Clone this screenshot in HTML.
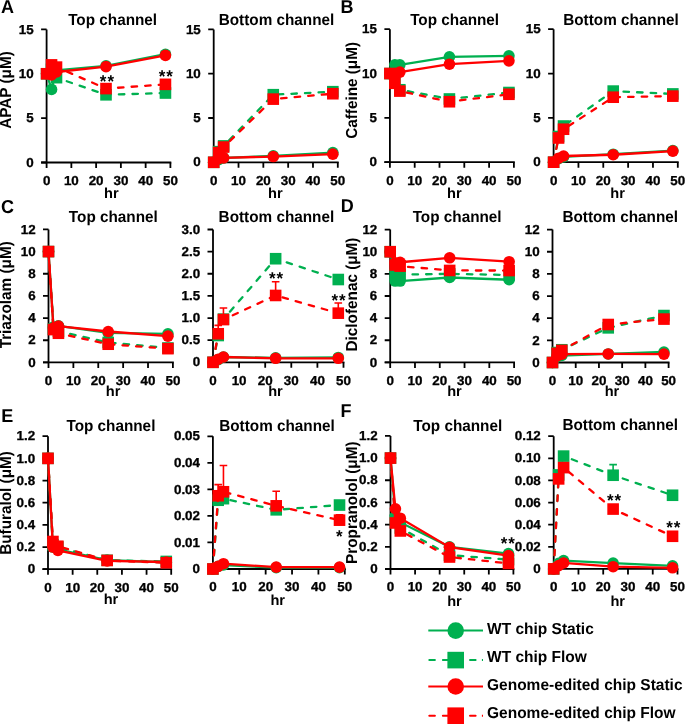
<!DOCTYPE html><html><head><meta charset="utf-8"><style>html,body{margin:0;padding:0;background:#fff;overflow:hidden}svg{display:block;will-change:transform}</style></head><body>
<svg text-rendering="geometricPrecision" width="685" height="724" viewBox="0 0 685 724" font-family='"Liberation Sans", sans-serif' font-weight="bold" fill="#000">
<rect width="685" height="724" fill="#fff"/>
<path d="M46.60 29.40V162.50M41.10 162.50H171.30" stroke="#000" stroke-width="1.8" fill="none"/>
<path d="M41.10 162.50H46.60M41.10 118.13H46.60M41.10 73.77H46.60M41.10 29.40H46.60M46.60 162.50V168.00M71.36 162.50V168.00M96.12 162.50V168.00M120.88 162.50V168.00M145.64 162.50V168.00M170.40 162.50V168.00" stroke="#000" stroke-width="1.8" fill="none"/>
<text transform="translate(33.70,166.65) scale(1.07,1.04)" text-anchor="end" font-size="12.5" stroke="#000" stroke-width="0.3">0</text>
<text transform="translate(33.70,122.28) scale(1.07,1.04)" text-anchor="end" font-size="12.5" stroke="#000" stroke-width="0.3">5</text>
<text transform="translate(33.70,77.92) scale(1.07,1.04)" text-anchor="end" font-size="12.5" stroke="#000" stroke-width="0.3">10</text>
<text transform="translate(33.70,33.55) scale(1.07,1.04)" text-anchor="end" font-size="12.5" stroke="#000" stroke-width="0.3">15</text>
<text transform="translate(46.60,184.80) scale(1.07,1.04)" text-anchor="middle" font-size="12.5" stroke="#000" stroke-width="0.3">0</text>
<text transform="translate(71.36,184.80) scale(1.07,1.04)" text-anchor="middle" font-size="12.5" stroke="#000" stroke-width="0.3">10</text>
<text transform="translate(96.12,184.80) scale(1.07,1.04)" text-anchor="middle" font-size="12.5" stroke="#000" stroke-width="0.3">20</text>
<text transform="translate(120.88,184.80) scale(1.07,1.04)" text-anchor="middle" font-size="12.5" stroke="#000" stroke-width="0.3">30</text>
<text transform="translate(145.64,184.80) scale(1.07,1.04)" text-anchor="middle" font-size="12.5" stroke="#000" stroke-width="0.3">40</text>
<text transform="translate(170.40,184.80) scale(1.07,1.04)" text-anchor="middle" font-size="12.5" stroke="#000" stroke-width="0.3">50</text>
<text transform="translate(112.60,24.50) scale(1,1.04)" text-anchor="middle" font-size="15.3">Top channel</text>
<text transform="translate(111.40,197.90) scale(1.0,1.0)" text-anchor="middle" font-size="14.6">hr</text>
<polyline points="46.60,73.77 51.55,89.38 56.50,70.22 106.02,65.78 165.45,54.25" fill="none" stroke="#00B050" stroke-width="2.3"/>
<circle cx="46.60" cy="73.77" r="5.80" fill="#00B050"/>
<circle cx="51.55" cy="89.38" r="5.80" fill="#00B050"/>
<circle cx="56.50" cy="70.22" r="5.80" fill="#00B050"/>
<circle cx="106.02" cy="65.78" r="5.80" fill="#00B050"/>
<circle cx="165.45" cy="54.25" r="5.80" fill="#00B050"/>
<polyline points="46.60,73.77 51.55,69.33 56.50,77.67 106.02,94.80 165.45,93.02" fill="none" stroke="#00B050" stroke-width="2.3" stroke-dasharray="5.5 8.1" stroke-linecap="round"/>
<rect x="40.80" y="67.97" width="11.60" height="11.60" fill="#00B050"/>
<rect x="45.75" y="63.53" width="11.60" height="11.60" fill="#00B050"/>
<rect x="50.70" y="71.87" width="11.60" height="11.60" fill="#00B050"/>
<rect x="100.22" y="89.00" width="11.60" height="11.60" fill="#00B050"/>
<rect x="159.65" y="87.22" width="11.60" height="11.60" fill="#00B050"/>
<polyline points="46.60,73.77 51.55,75.01 56.50,71.99 106.02,66.58 165.45,55.40" fill="none" stroke="#FF0000" stroke-width="2.3"/>
<circle cx="46.60" cy="73.77" r="5.80" fill="#FF0000"/>
<circle cx="51.55" cy="75.01" r="5.80" fill="#FF0000"/>
<circle cx="56.50" cy="71.99" r="5.80" fill="#FF0000"/>
<circle cx="106.02" cy="66.58" r="5.80" fill="#FF0000"/>
<circle cx="165.45" cy="55.40" r="5.80" fill="#FF0000"/>
<polyline points="46.60,73.77 51.55,64.89 56.50,67.11 106.02,88.59 165.45,84.33" fill="none" stroke="#FF0000" stroke-width="2.3" stroke-dasharray="5.5 8.1" stroke-linecap="round"/>
<rect x="40.80" y="67.97" width="11.60" height="11.60" fill="#FF0000"/>
<rect x="45.75" y="59.09" width="11.60" height="11.60" fill="#FF0000"/>
<rect x="50.70" y="61.31" width="11.60" height="11.60" fill="#FF0000"/>
<rect x="100.22" y="82.79" width="11.60" height="11.60" fill="#FF0000"/>
<rect x="159.65" y="78.53" width="11.60" height="11.60" fill="#FF0000"/>
<text x="107.40" y="87.05" text-anchor="middle" font-size="17" letter-spacing="1">**</text>
<text x="166.35" y="81.80" text-anchor="middle" font-size="17" letter-spacing="1">**</text>
<path d="M213.70 29.40V162.30M208.20 162.30H338.70" stroke="#000" stroke-width="1.8" fill="none"/>
<path d="M208.20 162.30H213.70M208.20 118.00H213.70M208.20 73.70H213.70M208.20 29.40H213.70M213.70 162.30V167.80M238.52 162.30V167.80M263.34 162.30V167.80M288.16 162.30V167.80M312.98 162.30V167.80M337.80 162.30V167.80" stroke="#000" stroke-width="1.8" fill="none"/>
<text transform="translate(200.80,166.45) scale(1.07,1.04)" text-anchor="end" font-size="12.5" stroke="#000" stroke-width="0.3">0</text>
<text transform="translate(200.80,122.15) scale(1.07,1.04)" text-anchor="end" font-size="12.5" stroke="#000" stroke-width="0.3">5</text>
<text transform="translate(200.80,77.85) scale(1.07,1.04)" text-anchor="end" font-size="12.5" stroke="#000" stroke-width="0.3">10</text>
<text transform="translate(200.80,33.55) scale(1.07,1.04)" text-anchor="end" font-size="12.5" stroke="#000" stroke-width="0.3">15</text>
<text transform="translate(213.70,184.60) scale(1.07,1.04)" text-anchor="middle" font-size="12.5" stroke="#000" stroke-width="0.3">0</text>
<text transform="translate(238.52,184.60) scale(1.07,1.04)" text-anchor="middle" font-size="12.5" stroke="#000" stroke-width="0.3">10</text>
<text transform="translate(263.34,184.60) scale(1.07,1.04)" text-anchor="middle" font-size="12.5" stroke="#000" stroke-width="0.3">20</text>
<text transform="translate(288.16,184.60) scale(1.07,1.04)" text-anchor="middle" font-size="12.5" stroke="#000" stroke-width="0.3">30</text>
<text transform="translate(312.98,184.60) scale(1.07,1.04)" text-anchor="middle" font-size="12.5" stroke="#000" stroke-width="0.3">40</text>
<text transform="translate(337.80,184.60) scale(1.07,1.04)" text-anchor="middle" font-size="12.5" stroke="#000" stroke-width="0.3">50</text>
<text transform="translate(276.50,24.50) scale(1,1.04)" text-anchor="middle" font-size="15.3">Bottom channel</text>
<text transform="translate(275.40,197.90) scale(1.0,1.0)" text-anchor="middle" font-size="14.6">hr</text>
<polyline points="213.70,162.30 218.66,159.64 223.63,157.87 273.27,155.92 332.84,152.55" fill="none" stroke="#00B050" stroke-width="2.3"/>
<circle cx="213.70" cy="162.30" r="5.80" fill="#00B050"/>
<circle cx="218.66" cy="159.64" r="5.80" fill="#00B050"/>
<circle cx="223.63" cy="157.87" r="5.80" fill="#00B050"/>
<circle cx="273.27" cy="155.92" r="5.80" fill="#00B050"/>
<circle cx="332.84" cy="152.55" r="5.80" fill="#00B050"/>
<polyline points="213.70,162.30 218.66,151.67 223.63,145.91 273.27,94.70 332.84,91.69" fill="none" stroke="#00B050" stroke-width="2.3" stroke-dasharray="5.5 8.1" stroke-linecap="round"/>
<rect x="207.90" y="156.50" width="11.60" height="11.60" fill="#00B050"/>
<rect x="212.86" y="145.87" width="11.60" height="11.60" fill="#00B050"/>
<rect x="217.83" y="140.11" width="11.60" height="11.60" fill="#00B050"/>
<rect x="267.47" y="88.90" width="11.60" height="11.60" fill="#00B050"/>
<rect x="327.04" y="85.89" width="11.60" height="11.60" fill="#00B050"/>
<polyline points="213.70,162.30 218.66,158.76 223.63,157.87 273.27,156.54 332.84,154.15" fill="none" stroke="#FF0000" stroke-width="2.3"/>
<circle cx="213.70" cy="162.30" r="5.80" fill="#FF0000"/>
<circle cx="218.66" cy="158.76" r="5.80" fill="#FF0000"/>
<circle cx="223.63" cy="157.87" r="5.80" fill="#FF0000"/>
<circle cx="273.27" cy="156.54" r="5.80" fill="#FF0000"/>
<circle cx="332.84" cy="154.15" r="5.80" fill="#FF0000"/>
<polyline points="213.70,162.30 218.66,152.55 223.63,147.06 273.27,99.13 332.84,93.72" fill="none" stroke="#FF0000" stroke-width="2.3" stroke-dasharray="5.5 8.1" stroke-linecap="round"/>
<rect x="207.90" y="156.50" width="11.60" height="11.60" fill="#FF0000"/>
<rect x="212.86" y="146.75" width="11.60" height="11.60" fill="#FF0000"/>
<rect x="217.83" y="141.26" width="11.60" height="11.60" fill="#FF0000"/>
<rect x="267.47" y="93.33" width="11.60" height="11.60" fill="#FF0000"/>
<rect x="327.04" y="87.92" width="11.60" height="11.60" fill="#FF0000"/>
<path d="M389.90 29.20V162.20M384.40 162.20H514.80" stroke="#000" stroke-width="1.8" fill="none"/>
<path d="M384.40 162.20H389.90M384.40 117.87H389.90M384.40 73.53H389.90M384.40 29.20H389.90M389.90 162.20V167.70M414.70 162.20V167.70M439.50 162.20V167.70M464.30 162.20V167.70M489.10 162.20V167.70M513.90 162.20V167.70" stroke="#000" stroke-width="1.8" fill="none"/>
<text transform="translate(377.00,166.35) scale(1.07,1.04)" text-anchor="end" font-size="12.5" stroke="#000" stroke-width="0.3">0</text>
<text transform="translate(377.00,122.02) scale(1.07,1.04)" text-anchor="end" font-size="12.5" stroke="#000" stroke-width="0.3">5</text>
<text transform="translate(377.00,77.68) scale(1.07,1.04)" text-anchor="end" font-size="12.5" stroke="#000" stroke-width="0.3">10</text>
<text transform="translate(377.00,33.35) scale(1.07,1.04)" text-anchor="end" font-size="12.5" stroke="#000" stroke-width="0.3">15</text>
<text transform="translate(389.90,184.50) scale(1.07,1.04)" text-anchor="middle" font-size="12.5" stroke="#000" stroke-width="0.3">0</text>
<text transform="translate(414.70,184.50) scale(1.07,1.04)" text-anchor="middle" font-size="12.5" stroke="#000" stroke-width="0.3">10</text>
<text transform="translate(439.50,184.50) scale(1.07,1.04)" text-anchor="middle" font-size="12.5" stroke="#000" stroke-width="0.3">20</text>
<text transform="translate(464.30,184.50) scale(1.07,1.04)" text-anchor="middle" font-size="12.5" stroke="#000" stroke-width="0.3">30</text>
<text transform="translate(489.10,184.50) scale(1.07,1.04)" text-anchor="middle" font-size="12.5" stroke="#000" stroke-width="0.3">40</text>
<text transform="translate(513.90,184.50) scale(1.07,1.04)" text-anchor="middle" font-size="12.5" stroke="#000" stroke-width="0.3">50</text>
<text transform="translate(454.60,24.80) scale(1,1.04)" text-anchor="middle" font-size="15.3">Top channel</text>
<text transform="translate(454.30,197.90) scale(1.0,1.0)" text-anchor="middle" font-size="14.6">hr</text>
<polyline points="389.90,73.53 394.86,64.84 399.82,64.84 449.42,56.86 508.94,55.80" fill="none" stroke="#00B050" stroke-width="2.3"/>
<circle cx="389.90" cy="73.53" r="5.80" fill="#00B050"/>
<circle cx="394.86" cy="64.84" r="5.80" fill="#00B050"/>
<circle cx="399.82" cy="64.84" r="5.80" fill="#00B050"/>
<circle cx="449.42" cy="56.86" r="5.80" fill="#00B050"/>
<circle cx="508.94" cy="55.80" r="5.80" fill="#00B050"/>
<polyline points="389.90,73.53 394.86,82.40 399.82,89.76 449.42,98.98 508.94,92.51" fill="none" stroke="#00B050" stroke-width="2.3" stroke-dasharray="5.5 8.1" stroke-linecap="round"/>
<rect x="384.10" y="67.73" width="11.60" height="11.60" fill="#00B050"/>
<rect x="389.06" y="76.60" width="11.60" height="11.60" fill="#00B050"/>
<rect x="394.02" y="83.96" width="11.60" height="11.60" fill="#00B050"/>
<rect x="443.62" y="93.18" width="11.60" height="11.60" fill="#00B050"/>
<rect x="503.14" y="86.71" width="11.60" height="11.60" fill="#00B050"/>
<polyline points="389.90,73.53 394.86,73.53 399.82,72.11 449.42,64.22 508.94,60.85" fill="none" stroke="#FF0000" stroke-width="2.3"/>
<circle cx="389.90" cy="73.53" r="5.80" fill="#FF0000"/>
<circle cx="394.86" cy="73.53" r="5.80" fill="#FF0000"/>
<circle cx="399.82" cy="72.11" r="5.80" fill="#FF0000"/>
<circle cx="449.42" cy="64.22" r="5.80" fill="#FF0000"/>
<circle cx="508.94" cy="60.85" r="5.80" fill="#FF0000"/>
<polyline points="389.90,73.53 394.86,83.29 399.82,91.09 449.42,101.73 508.94,94.28" fill="none" stroke="#FF0000" stroke-width="2.3" stroke-dasharray="5.5 8.1" stroke-linecap="round"/>
<rect x="384.10" y="67.73" width="11.60" height="11.60" fill="#FF0000"/>
<rect x="389.06" y="77.49" width="11.60" height="11.60" fill="#FF0000"/>
<rect x="394.02" y="85.29" width="11.60" height="11.60" fill="#FF0000"/>
<rect x="443.62" y="95.93" width="11.60" height="11.60" fill="#FF0000"/>
<rect x="503.14" y="88.48" width="11.60" height="11.60" fill="#FF0000"/>
<path d="M553.60 29.20V162.20M548.10 162.20H678.70" stroke="#000" stroke-width="1.8" fill="none"/>
<path d="M548.10 162.20H553.60M548.10 117.87H553.60M548.10 73.53H553.60M548.10 29.20H553.60M553.60 162.20V167.70M578.44 162.20V167.70M603.28 162.20V167.70M628.12 162.20V167.70M652.96 162.20V167.70M677.80 162.20V167.70" stroke="#000" stroke-width="1.8" fill="none"/>
<text transform="translate(540.70,166.35) scale(1.07,1.04)" text-anchor="end" font-size="12.5" stroke="#000" stroke-width="0.3">0</text>
<text transform="translate(540.70,122.02) scale(1.07,1.04)" text-anchor="end" font-size="12.5" stroke="#000" stroke-width="0.3">5</text>
<text transform="translate(540.70,77.68) scale(1.07,1.04)" text-anchor="end" font-size="12.5" stroke="#000" stroke-width="0.3">10</text>
<text transform="translate(540.70,33.35) scale(1.07,1.04)" text-anchor="end" font-size="12.5" stroke="#000" stroke-width="0.3">15</text>
<text transform="translate(553.60,184.50) scale(1.07,1.04)" text-anchor="middle" font-size="12.5" stroke="#000" stroke-width="0.3">0</text>
<text transform="translate(578.44,184.50) scale(1.07,1.04)" text-anchor="middle" font-size="12.5" stroke="#000" stroke-width="0.3">10</text>
<text transform="translate(603.28,184.50) scale(1.07,1.04)" text-anchor="middle" font-size="12.5" stroke="#000" stroke-width="0.3">20</text>
<text transform="translate(628.12,184.50) scale(1.07,1.04)" text-anchor="middle" font-size="12.5" stroke="#000" stroke-width="0.3">30</text>
<text transform="translate(652.96,184.50) scale(1.07,1.04)" text-anchor="middle" font-size="12.5" stroke="#000" stroke-width="0.3">40</text>
<text transform="translate(677.80,184.50) scale(1.07,1.04)" text-anchor="middle" font-size="12.5" stroke="#000" stroke-width="0.3">50</text>
<text transform="translate(621.00,24.50) scale(1,1.04)" text-anchor="middle" font-size="15.3">Bottom channel</text>
<text transform="translate(617.60,197.90) scale(1.0,1.0)" text-anchor="middle" font-size="14.6">hr</text>
<polyline points="553.60,162.20 558.57,158.65 563.54,156.88 613.22,154.22 672.83,150.67" fill="none" stroke="#00B050" stroke-width="2.3"/>
<circle cx="553.60" cy="162.20" r="5.80" fill="#00B050"/>
<circle cx="558.57" cy="158.65" r="5.80" fill="#00B050"/>
<circle cx="563.54" cy="156.88" r="5.80" fill="#00B050"/>
<circle cx="613.22" cy="154.22" r="5.80" fill="#00B050"/>
<circle cx="672.83" cy="150.67" r="5.80" fill="#00B050"/>
<polyline points="553.60,162.20 558.57,136.49 563.54,126.02 613.22,91.09 672.83,93.93" fill="none" stroke="#00B050" stroke-width="2.3" stroke-dasharray="5.5 8.1" stroke-linecap="round"/>
<rect x="547.80" y="156.40" width="11.60" height="11.60" fill="#00B050"/>
<rect x="552.77" y="130.69" width="11.60" height="11.60" fill="#00B050"/>
<rect x="557.74" y="120.22" width="11.60" height="11.60" fill="#00B050"/>
<rect x="607.42" y="85.29" width="11.60" height="11.60" fill="#00B050"/>
<rect x="667.03" y="88.13" width="11.60" height="11.60" fill="#00B050"/>
<polyline points="553.60,162.20 558.57,158.21 563.54,155.99 613.22,154.75 672.83,151.12" fill="none" stroke="#FF0000" stroke-width="2.3"/>
<circle cx="553.60" cy="162.20" r="5.80" fill="#FF0000"/>
<circle cx="558.57" cy="158.21" r="5.80" fill="#FF0000"/>
<circle cx="563.54" cy="155.99" r="5.80" fill="#FF0000"/>
<circle cx="613.22" cy="154.75" r="5.80" fill="#FF0000"/>
<circle cx="672.83" cy="151.12" r="5.80" fill="#FF0000"/>
<polyline points="553.60,162.20 558.57,137.99 563.54,129.22 613.22,97.21 672.83,96.14" fill="none" stroke="#FF0000" stroke-width="2.3" stroke-dasharray="5.5 8.1" stroke-linecap="round"/>
<rect x="547.80" y="156.40" width="11.60" height="11.60" fill="#FF0000"/>
<rect x="552.77" y="132.19" width="11.60" height="11.60" fill="#FF0000"/>
<rect x="557.74" y="123.42" width="11.60" height="11.60" fill="#FF0000"/>
<rect x="607.42" y="91.41" width="11.60" height="11.60" fill="#FF0000"/>
<rect x="667.03" y="90.34" width="11.60" height="11.60" fill="#FF0000"/>
<path d="M48.50 229.40V362.40M43.00 362.40H173.80" stroke="#000" stroke-width="1.8" fill="none"/>
<path d="M43.00 362.40H48.50M43.00 340.23H48.50M43.00 318.07H48.50M43.00 295.90H48.50M43.00 273.73H48.50M43.00 251.57H48.50M43.00 229.40H48.50M48.50 362.40V367.90M73.38 362.40V367.90M98.26 362.40V367.90M123.14 362.40V367.90M148.02 362.40V367.90M172.90 362.40V367.90" stroke="#000" stroke-width="1.8" fill="none"/>
<text transform="translate(35.60,366.55) scale(1.07,1.04)" text-anchor="end" font-size="12.5" stroke="#000" stroke-width="0.3">0</text>
<text transform="translate(35.60,344.38) scale(1.07,1.04)" text-anchor="end" font-size="12.5" stroke="#000" stroke-width="0.3">2</text>
<text transform="translate(35.60,322.22) scale(1.07,1.04)" text-anchor="end" font-size="12.5" stroke="#000" stroke-width="0.3">4</text>
<text transform="translate(35.60,300.05) scale(1.07,1.04)" text-anchor="end" font-size="12.5" stroke="#000" stroke-width="0.3">6</text>
<text transform="translate(35.60,277.88) scale(1.07,1.04)" text-anchor="end" font-size="12.5" stroke="#000" stroke-width="0.3">8</text>
<text transform="translate(35.60,255.72) scale(1.07,1.04)" text-anchor="end" font-size="12.5" stroke="#000" stroke-width="0.3">10</text>
<text transform="translate(35.60,233.55) scale(1.07,1.04)" text-anchor="end" font-size="12.5" stroke="#000" stroke-width="0.3">12</text>
<text transform="translate(48.50,384.70) scale(1.07,1.04)" text-anchor="middle" font-size="12.5" stroke="#000" stroke-width="0.3">0</text>
<text transform="translate(73.38,384.70) scale(1.07,1.04)" text-anchor="middle" font-size="12.5" stroke="#000" stroke-width="0.3">10</text>
<text transform="translate(98.26,384.70) scale(1.07,1.04)" text-anchor="middle" font-size="12.5" stroke="#000" stroke-width="0.3">20</text>
<text transform="translate(123.14,384.70) scale(1.07,1.04)" text-anchor="middle" font-size="12.5" stroke="#000" stroke-width="0.3">30</text>
<text transform="translate(148.02,384.70) scale(1.07,1.04)" text-anchor="middle" font-size="12.5" stroke="#000" stroke-width="0.3">40</text>
<text transform="translate(172.90,384.70) scale(1.07,1.04)" text-anchor="middle" font-size="12.5" stroke="#000" stroke-width="0.3">50</text>
<text transform="translate(113.30,221.50) scale(1,1.04)" text-anchor="middle" font-size="15.3">Top channel</text>
<text transform="translate(113.10,396.10) scale(1.0,1.0)" text-anchor="middle" font-size="14.6">hr</text>
<polyline points="48.50,251.57 53.48,326.93 58.45,325.82 108.21,332.81 167.92,333.81" fill="none" stroke="#00B050" stroke-width="2.3"/>
<circle cx="48.50" cy="251.57" r="5.80" fill="#00B050"/>
<circle cx="53.48" cy="326.93" r="5.80" fill="#00B050"/>
<circle cx="58.45" cy="325.82" r="5.80" fill="#00B050"/>
<circle cx="108.21" cy="332.81" r="5.80" fill="#00B050"/>
<circle cx="167.92" cy="333.81" r="5.80" fill="#00B050"/>
<polyline points="48.50,251.57 53.48,329.15 58.45,331.37 108.21,342.45 167.92,347.99" fill="none" stroke="#00B050" stroke-width="2.3" stroke-dasharray="5.5 8.1" stroke-linecap="round"/>
<rect x="42.70" y="245.77" width="11.60" height="11.60" fill="#00B050"/>
<rect x="47.68" y="323.35" width="11.60" height="11.60" fill="#00B050"/>
<rect x="52.65" y="325.57" width="11.60" height="11.60" fill="#00B050"/>
<rect x="102.41" y="336.65" width="11.60" height="11.60" fill="#00B050"/>
<rect x="162.12" y="342.19" width="11.60" height="11.60" fill="#00B050"/>
<polyline points="48.50,251.57 53.48,328.04 58.45,326.05 108.21,331.48 167.92,336.13" fill="none" stroke="#FF0000" stroke-width="2.3"/>
<circle cx="48.50" cy="251.57" r="5.80" fill="#FF0000"/>
<circle cx="53.48" cy="328.04" r="5.80" fill="#FF0000"/>
<circle cx="58.45" cy="326.05" r="5.80" fill="#FF0000"/>
<circle cx="108.21" cy="331.48" r="5.80" fill="#FF0000"/>
<circle cx="167.92" cy="336.13" r="5.80" fill="#FF0000"/>
<polyline points="48.50,251.57 53.48,329.59 58.45,333.25 108.21,344.22 167.92,348.66" fill="none" stroke="#FF0000" stroke-width="2.3" stroke-dasharray="5.5 8.1" stroke-linecap="round"/>
<rect x="42.70" y="245.77" width="11.60" height="11.60" fill="#FF0000"/>
<rect x="47.68" y="323.79" width="11.60" height="11.60" fill="#FF0000"/>
<rect x="52.65" y="327.45" width="11.60" height="11.60" fill="#FF0000"/>
<rect x="102.41" y="338.42" width="11.60" height="11.60" fill="#FF0000"/>
<rect x="162.12" y="342.86" width="11.60" height="11.60" fill="#FF0000"/>
<path d="M213.00 229.50V362.30M207.50 362.30H344.40" stroke="#000" stroke-width="1.8" fill="none"/>
<path d="M207.50 362.30H213.00M207.50 340.17H213.00M207.50 318.03H213.00M207.50 295.90H213.00M207.50 273.77H213.00M207.50 251.63H213.00M207.50 229.50H213.00M213.00 362.30V367.80M239.10 362.30V367.80M265.20 362.30V367.80M291.30 362.30V367.80M317.40 362.30V367.80M343.50 362.30V367.80" stroke="#000" stroke-width="1.8" fill="none"/>
<text transform="translate(200.10,366.45) scale(1.07,1.04)" text-anchor="end" font-size="12.5" stroke="#000" stroke-width="0.3">0</text>
<text transform="translate(200.10,344.32) scale(1.07,1.04)" text-anchor="end" font-size="12.5" stroke="#000" stroke-width="0.3">0.5</text>
<text transform="translate(200.10,322.18) scale(1.07,1.04)" text-anchor="end" font-size="12.5" stroke="#000" stroke-width="0.3">1.0</text>
<text transform="translate(200.10,300.05) scale(1.07,1.04)" text-anchor="end" font-size="12.5" stroke="#000" stroke-width="0.3">1.5</text>
<text transform="translate(200.10,277.92) scale(1.07,1.04)" text-anchor="end" font-size="12.5" stroke="#000" stroke-width="0.3">2.0</text>
<text transform="translate(200.10,255.78) scale(1.07,1.04)" text-anchor="end" font-size="12.5" stroke="#000" stroke-width="0.3">2.5</text>
<text transform="translate(200.10,233.65) scale(1.07,1.04)" text-anchor="end" font-size="12.5" stroke="#000" stroke-width="0.3">3.0</text>
<text transform="translate(213.00,384.60) scale(1.07,1.04)" text-anchor="middle" font-size="12.5" stroke="#000" stroke-width="0.3">0</text>
<text transform="translate(239.10,384.60) scale(1.07,1.04)" text-anchor="middle" font-size="12.5" stroke="#000" stroke-width="0.3">10</text>
<text transform="translate(265.20,384.60) scale(1.07,1.04)" text-anchor="middle" font-size="12.5" stroke="#000" stroke-width="0.3">20</text>
<text transform="translate(291.30,384.60) scale(1.07,1.04)" text-anchor="middle" font-size="12.5" stroke="#000" stroke-width="0.3">30</text>
<text transform="translate(317.40,384.60) scale(1.07,1.04)" text-anchor="middle" font-size="12.5" stroke="#000" stroke-width="0.3">40</text>
<text transform="translate(343.50,384.60) scale(1.07,1.04)" text-anchor="middle" font-size="12.5" stroke="#000" stroke-width="0.3">50</text>
<text transform="translate(276.40,221.50) scale(1,1.04)" text-anchor="middle" font-size="15.3">Bottom channel</text>
<text transform="translate(275.50,396.10) scale(1.0,1.0)" text-anchor="middle" font-size="14.6">hr</text>
<polyline points="213.00,362.30 218.22,359.64 223.44,356.99 275.64,357.87 338.28,357.43" fill="none" stroke="#00B050" stroke-width="2.3"/>
<circle cx="213.00" cy="362.30" r="5.80" fill="#00B050"/>
<circle cx="218.22" cy="359.64" r="5.80" fill="#00B050"/>
<circle cx="223.44" cy="356.99" r="5.80" fill="#00B050"/>
<circle cx="275.64" cy="357.87" r="5.80" fill="#00B050"/>
<circle cx="338.28" cy="357.43" r="5.80" fill="#00B050"/>
<polyline points="213.00,362.30 218.22,335.52 223.44,319.14 275.64,258.72 338.28,279.52" fill="none" stroke="#00B050" stroke-width="2.3" stroke-dasharray="5.5 8.1" stroke-linecap="round"/>
<rect x="207.20" y="356.50" width="11.60" height="11.60" fill="#00B050"/>
<rect x="212.42" y="329.72" width="11.60" height="11.60" fill="#00B050"/>
<rect x="217.64" y="313.34" width="11.60" height="11.60" fill="#00B050"/>
<rect x="269.84" y="252.92" width="11.60" height="11.60" fill="#00B050"/>
<rect x="332.48" y="273.72" width="11.60" height="11.60" fill="#00B050"/>
<polyline points="213.00,362.30 218.22,359.20 223.44,356.99 275.64,358.32 338.28,358.32" fill="none" stroke="#FF0000" stroke-width="2.3"/>
<circle cx="213.00" cy="362.30" r="5.80" fill="#FF0000"/>
<circle cx="218.22" cy="359.20" r="5.80" fill="#FF0000"/>
<circle cx="223.44" cy="356.99" r="5.80" fill="#FF0000"/>
<circle cx="275.64" cy="358.32" r="5.80" fill="#FF0000"/>
<circle cx="338.28" cy="358.32" r="5.80" fill="#FF0000"/>
<polyline points="213.00,362.30 218.22,333.75 223.44,319.58 275.64,295.46 338.28,313.16" fill="none" stroke="#FF0000" stroke-width="2.3" stroke-dasharray="5.5 8.1" stroke-linecap="round"/>
<path d="M218.22 333.75V325.34M214.42 325.34H222.02" stroke="#FF0000" stroke-width="1.6" fill="none"/>
<path d="M223.44 319.58V308.07M219.64 308.07H227.24" stroke="#FF0000" stroke-width="1.6" fill="none"/>
<path d="M275.64 295.46V281.73M271.84 281.73H279.44" stroke="#FF0000" stroke-width="1.6" fill="none"/>
<path d="M338.28 313.16V302.98M334.48 302.98H342.08" stroke="#FF0000" stroke-width="1.6" fill="none"/>
<rect x="207.20" y="356.50" width="11.60" height="11.60" fill="#FF0000"/>
<rect x="212.42" y="327.95" width="11.60" height="11.60" fill="#FF0000"/>
<rect x="217.64" y="313.78" width="11.60" height="11.60" fill="#FF0000"/>
<rect x="269.84" y="289.66" width="11.60" height="11.60" fill="#FF0000"/>
<rect x="332.48" y="307.36" width="11.60" height="11.60" fill="#FF0000"/>
<text x="276.60" y="284.40" text-anchor="middle" font-size="17" letter-spacing="1">**</text>
<text x="339.10" y="305.70" text-anchor="middle" font-size="17" letter-spacing="1">**</text>
<path d="M390.20 229.60V362.40M384.70 362.40H515.00" stroke="#000" stroke-width="1.8" fill="none"/>
<path d="M384.70 362.40H390.20M384.70 340.27H390.20M384.70 318.13H390.20M384.70 296.00H390.20M384.70 273.87H390.20M384.70 251.73H390.20M384.70 229.60H390.20M390.20 362.40V367.90M414.98 362.40V367.90M439.76 362.40V367.90M464.54 362.40V367.90M489.32 362.40V367.90M514.10 362.40V367.90" stroke="#000" stroke-width="1.8" fill="none"/>
<text transform="translate(377.30,366.55) scale(1.07,1.04)" text-anchor="end" font-size="12.5" stroke="#000" stroke-width="0.3">0</text>
<text transform="translate(377.30,344.42) scale(1.07,1.04)" text-anchor="end" font-size="12.5" stroke="#000" stroke-width="0.3">2</text>
<text transform="translate(377.30,322.28) scale(1.07,1.04)" text-anchor="end" font-size="12.5" stroke="#000" stroke-width="0.3">4</text>
<text transform="translate(377.30,300.15) scale(1.07,1.04)" text-anchor="end" font-size="12.5" stroke="#000" stroke-width="0.3">6</text>
<text transform="translate(377.30,278.02) scale(1.07,1.04)" text-anchor="end" font-size="12.5" stroke="#000" stroke-width="0.3">8</text>
<text transform="translate(377.30,255.88) scale(1.07,1.04)" text-anchor="end" font-size="12.5" stroke="#000" stroke-width="0.3">10</text>
<text transform="translate(377.30,233.75) scale(1.07,1.04)" text-anchor="end" font-size="12.5" stroke="#000" stroke-width="0.3">12</text>
<text transform="translate(390.20,384.70) scale(1.07,1.04)" text-anchor="middle" font-size="12.5" stroke="#000" stroke-width="0.3">0</text>
<text transform="translate(414.98,384.70) scale(1.07,1.04)" text-anchor="middle" font-size="12.5" stroke="#000" stroke-width="0.3">10</text>
<text transform="translate(439.76,384.70) scale(1.07,1.04)" text-anchor="middle" font-size="12.5" stroke="#000" stroke-width="0.3">20</text>
<text transform="translate(464.54,384.70) scale(1.07,1.04)" text-anchor="middle" font-size="12.5" stroke="#000" stroke-width="0.3">30</text>
<text transform="translate(489.32,384.70) scale(1.07,1.04)" text-anchor="middle" font-size="12.5" stroke="#000" stroke-width="0.3">40</text>
<text transform="translate(514.10,384.70) scale(1.07,1.04)" text-anchor="middle" font-size="12.5" stroke="#000" stroke-width="0.3">50</text>
<text transform="translate(457.10,221.50) scale(1,1.04)" text-anchor="middle" font-size="15.3">Top channel</text>
<text transform="translate(454.50,396.10) scale(1.0,1.0)" text-anchor="middle" font-size="14.6">hr</text>
<polyline points="390.20,251.73 395.16,281.06 400.11,281.06 449.67,277.52 509.14,279.73" fill="none" stroke="#00B050" stroke-width="2.3"/>
<circle cx="390.20" cy="251.73" r="5.80" fill="#00B050"/>
<circle cx="395.16" cy="281.06" r="5.80" fill="#00B050"/>
<circle cx="400.11" cy="281.06" r="5.80" fill="#00B050"/>
<circle cx="449.67" cy="277.52" r="5.80" fill="#00B050"/>
<circle cx="509.14" cy="279.73" r="5.80" fill="#00B050"/>
<polyline points="390.20,251.73 395.16,274.64 400.11,274.64 449.67,273.87 509.14,274.97" fill="none" stroke="#00B050" stroke-width="2.3" stroke-dasharray="5.5 8.1" stroke-linecap="round"/>
<rect x="384.40" y="245.93" width="11.60" height="11.60" fill="#00B050"/>
<rect x="389.36" y="268.84" width="11.60" height="11.60" fill="#00B050"/>
<rect x="394.31" y="268.84" width="11.60" height="11.60" fill="#00B050"/>
<rect x="443.87" y="268.07" width="11.60" height="11.60" fill="#00B050"/>
<rect x="503.34" y="269.17" width="11.60" height="11.60" fill="#00B050"/>
<polyline points="390.20,251.73 395.16,262.80 400.11,262.25 449.67,257.82 509.14,261.69" fill="none" stroke="#FF0000" stroke-width="2.3"/>
<circle cx="390.20" cy="251.73" r="5.80" fill="#FF0000"/>
<circle cx="395.16" cy="262.80" r="5.80" fill="#FF0000"/>
<circle cx="400.11" cy="262.25" r="5.80" fill="#FF0000"/>
<circle cx="449.67" cy="257.82" r="5.80" fill="#FF0000"/>
<circle cx="509.14" cy="261.69" r="5.80" fill="#FF0000"/>
<polyline points="390.20,251.73 395.16,265.01 400.11,266.12 449.67,270.44 509.14,270.55" fill="none" stroke="#FF0000" stroke-width="2.3" stroke-dasharray="5.5 8.1" stroke-linecap="round"/>
<rect x="384.40" y="245.93" width="11.60" height="11.60" fill="#FF0000"/>
<rect x="389.36" y="259.21" width="11.60" height="11.60" fill="#FF0000"/>
<rect x="394.31" y="260.32" width="11.60" height="11.60" fill="#FF0000"/>
<rect x="443.87" y="264.64" width="11.60" height="11.60" fill="#FF0000"/>
<rect x="503.34" y="264.75" width="11.60" height="11.60" fill="#FF0000"/>
<path d="M552.50 229.60V362.50M547.00 362.50H669.50" stroke="#000" stroke-width="1.8" fill="none"/>
<path d="M547.00 362.50H552.50M547.00 340.35H552.50M547.00 318.20H552.50M547.00 296.05H552.50M547.00 273.90H552.50M547.00 251.75H552.50M547.00 229.60H552.50M552.50 362.50V368.00M575.72 362.50V368.00M598.94 362.50V368.00M622.16 362.50V368.00M645.38 362.50V368.00M668.60 362.50V368.00" stroke="#000" stroke-width="1.8" fill="none"/>
<text transform="translate(539.60,366.65) scale(1.07,1.04)" text-anchor="end" font-size="12.5" stroke="#000" stroke-width="0.3">0</text>
<text transform="translate(539.60,344.50) scale(1.07,1.04)" text-anchor="end" font-size="12.5" stroke="#000" stroke-width="0.3">2</text>
<text transform="translate(539.60,322.35) scale(1.07,1.04)" text-anchor="end" font-size="12.5" stroke="#000" stroke-width="0.3">4</text>
<text transform="translate(539.60,300.20) scale(1.07,1.04)" text-anchor="end" font-size="12.5" stroke="#000" stroke-width="0.3">6</text>
<text transform="translate(539.60,278.05) scale(1.07,1.04)" text-anchor="end" font-size="12.5" stroke="#000" stroke-width="0.3">8</text>
<text transform="translate(539.60,255.90) scale(1.07,1.04)" text-anchor="end" font-size="12.5" stroke="#000" stroke-width="0.3">10</text>
<text transform="translate(539.60,233.75) scale(1.07,1.04)" text-anchor="end" font-size="12.5" stroke="#000" stroke-width="0.3">12</text>
<text transform="translate(552.50,384.80) scale(1.07,1.04)" text-anchor="middle" font-size="12.5" stroke="#000" stroke-width="0.3">0</text>
<text transform="translate(575.72,384.80) scale(1.07,1.04)" text-anchor="middle" font-size="12.5" stroke="#000" stroke-width="0.3">10</text>
<text transform="translate(598.94,384.80) scale(1.07,1.04)" text-anchor="middle" font-size="12.5" stroke="#000" stroke-width="0.3">20</text>
<text transform="translate(622.16,384.80) scale(1.07,1.04)" text-anchor="middle" font-size="12.5" stroke="#000" stroke-width="0.3">30</text>
<text transform="translate(645.38,384.80) scale(1.07,1.04)" text-anchor="middle" font-size="12.5" stroke="#000" stroke-width="0.3">40</text>
<text transform="translate(668.60,384.80) scale(1.07,1.04)" text-anchor="middle" font-size="12.5" stroke="#000" stroke-width="0.3">50</text>
<text transform="translate(620.20,221.50) scale(1,1.04)" text-anchor="middle" font-size="15.3">Bottom channel</text>
<text transform="translate(612.00,396.10) scale(1.0,1.0)" text-anchor="middle" font-size="14.6">hr</text>
<polyline points="552.50,362.50 557.14,356.96 561.79,355.52 608.23,353.97 663.96,351.98" fill="none" stroke="#00B050" stroke-width="2.3"/>
<circle cx="552.50" cy="362.50" r="5.80" fill="#00B050"/>
<circle cx="557.14" cy="356.96" r="5.80" fill="#00B050"/>
<circle cx="561.79" cy="355.52" r="5.80" fill="#00B050"/>
<circle cx="608.23" cy="353.97" r="5.80" fill="#00B050"/>
<circle cx="663.96" cy="351.98" r="5.80" fill="#00B050"/>
<polyline points="552.50,362.50 557.14,352.53 561.79,349.76 608.23,327.84 663.96,315.54" fill="none" stroke="#00B050" stroke-width="2.3" stroke-dasharray="5.5 8.1" stroke-linecap="round"/>
<rect x="546.70" y="356.70" width="11.60" height="11.60" fill="#00B050"/>
<rect x="551.34" y="346.73" width="11.60" height="11.60" fill="#00B050"/>
<rect x="555.99" y="343.96" width="11.60" height="11.60" fill="#00B050"/>
<rect x="602.43" y="322.04" width="11.60" height="11.60" fill="#00B050"/>
<rect x="658.16" y="309.74" width="11.60" height="11.60" fill="#00B050"/>
<polyline points="552.50,362.50 557.14,355.86 561.79,354.19 608.23,353.97 663.96,354.08" fill="none" stroke="#FF0000" stroke-width="2.3"/>
<circle cx="552.50" cy="362.50" r="5.80" fill="#FF0000"/>
<circle cx="557.14" cy="355.86" r="5.80" fill="#FF0000"/>
<circle cx="561.79" cy="354.19" r="5.80" fill="#FF0000"/>
<circle cx="608.23" cy="353.97" r="5.80" fill="#FF0000"/>
<circle cx="663.96" cy="354.08" r="5.80" fill="#FF0000"/>
<polyline points="552.50,362.50 557.14,353.31 561.79,350.43 608.23,324.51 663.96,319.09" fill="none" stroke="#FF0000" stroke-width="2.3" stroke-dasharray="5.5 8.1" stroke-linecap="round"/>
<rect x="546.70" y="356.70" width="11.60" height="11.60" fill="#FF0000"/>
<rect x="551.34" y="347.51" width="11.60" height="11.60" fill="#FF0000"/>
<rect x="555.99" y="344.63" width="11.60" height="11.60" fill="#FF0000"/>
<rect x="602.43" y="318.71" width="11.60" height="11.60" fill="#FF0000"/>
<rect x="658.16" y="313.29" width="11.60" height="11.60" fill="#FF0000"/>
<path d="M48.00 436.20V569.20M42.50 569.20H172.10" stroke="#000" stroke-width="1.8" fill="none"/>
<path d="M42.50 569.20H48.00M42.50 547.03H48.00M42.50 524.87H48.00M42.50 502.70H48.00M42.50 480.53H48.00M42.50 458.37H48.00M42.50 436.20H48.00M48.00 569.20V574.70M72.64 569.20V574.70M97.28 569.20V574.70M121.92 569.20V574.70M146.56 569.20V574.70M171.20 569.20V574.70" stroke="#000" stroke-width="1.8" fill="none"/>
<text transform="translate(35.10,573.35) scale(1.07,1.04)" text-anchor="end" font-size="12.5" stroke="#000" stroke-width="0.3">0</text>
<text transform="translate(35.10,551.18) scale(1.07,1.04)" text-anchor="end" font-size="12.5" stroke="#000" stroke-width="0.3">0.2</text>
<text transform="translate(35.10,529.02) scale(1.07,1.04)" text-anchor="end" font-size="12.5" stroke="#000" stroke-width="0.3">0.4</text>
<text transform="translate(35.10,506.85) scale(1.07,1.04)" text-anchor="end" font-size="12.5" stroke="#000" stroke-width="0.3">0.6</text>
<text transform="translate(35.10,484.68) scale(1.07,1.04)" text-anchor="end" font-size="12.5" stroke="#000" stroke-width="0.3">0.8</text>
<text transform="translate(35.10,462.52) scale(1.07,1.04)" text-anchor="end" font-size="12.5" stroke="#000" stroke-width="0.3">1.0</text>
<text transform="translate(35.10,440.35) scale(1.07,1.04)" text-anchor="end" font-size="12.5" stroke="#000" stroke-width="0.3">1.2</text>
<text transform="translate(48.00,591.50) scale(1.07,1.04)" text-anchor="middle" font-size="12.5" stroke="#000" stroke-width="0.3">0</text>
<text transform="translate(72.64,591.50) scale(1.07,1.04)" text-anchor="middle" font-size="12.5" stroke="#000" stroke-width="0.3">10</text>
<text transform="translate(97.28,591.50) scale(1.07,1.04)" text-anchor="middle" font-size="12.5" stroke="#000" stroke-width="0.3">20</text>
<text transform="translate(121.92,591.50) scale(1.07,1.04)" text-anchor="middle" font-size="12.5" stroke="#000" stroke-width="0.3">30</text>
<text transform="translate(146.56,591.50) scale(1.07,1.04)" text-anchor="middle" font-size="12.5" stroke="#000" stroke-width="0.3">40</text>
<text transform="translate(171.20,591.50) scale(1.07,1.04)" text-anchor="middle" font-size="12.5" stroke="#000" stroke-width="0.3">50</text>
<text transform="translate(110.90,431.00) scale(1,1.04)" text-anchor="middle" font-size="15.3">Top channel</text>
<text transform="translate(111.00,604.40) scale(1.0,1.0)" text-anchor="middle" font-size="14.6">hr</text>
<polyline points="48.00,458.37 52.93,547.03 57.86,549.25 107.14,560.11 166.27,562.27" fill="none" stroke="#00B050" stroke-width="2.3"/>
<circle cx="48.00" cy="458.37" r="5.80" fill="#00B050"/>
<circle cx="52.93" cy="547.03" r="5.80" fill="#00B050"/>
<circle cx="57.86" cy="549.25" r="5.80" fill="#00B050"/>
<circle cx="107.14" cy="560.11" r="5.80" fill="#00B050"/>
<circle cx="166.27" cy="562.27" r="5.80" fill="#00B050"/>
<polyline points="48.00,458.37 52.93,544.82 57.86,547.03 107.14,560.33 166.27,561.44" fill="none" stroke="#00B050" stroke-width="2.3" stroke-dasharray="5.5 8.1" stroke-linecap="round"/>
<rect x="42.20" y="452.57" width="11.60" height="11.60" fill="#00B050"/>
<rect x="47.13" y="539.02" width="11.60" height="11.60" fill="#00B050"/>
<rect x="52.06" y="541.23" width="11.60" height="11.60" fill="#00B050"/>
<rect x="101.34" y="554.53" width="11.60" height="11.60" fill="#00B050"/>
<rect x="160.47" y="555.64" width="11.60" height="11.60" fill="#00B050"/>
<polyline points="48.00,458.37 52.93,547.03 57.86,550.36 107.14,560.89 166.27,562.00" fill="none" stroke="#FF0000" stroke-width="2.3"/>
<circle cx="48.00" cy="458.37" r="5.80" fill="#FF0000"/>
<circle cx="52.93" cy="547.03" r="5.80" fill="#FF0000"/>
<circle cx="57.86" cy="550.36" r="5.80" fill="#FF0000"/>
<circle cx="107.14" cy="560.89" r="5.80" fill="#FF0000"/>
<circle cx="166.27" cy="562.00" r="5.80" fill="#FF0000"/>
<polyline points="48.00,458.37 52.93,541.49 57.86,546.26 107.14,560.44 166.27,562.77" fill="none" stroke="#FF0000" stroke-width="2.3" stroke-dasharray="5.5 8.1" stroke-linecap="round"/>
<rect x="42.20" y="452.57" width="11.60" height="11.60" fill="#FF0000"/>
<rect x="47.13" y="535.69" width="11.60" height="11.60" fill="#FF0000"/>
<rect x="52.06" y="540.46" width="11.60" height="11.60" fill="#FF0000"/>
<rect x="101.34" y="554.64" width="11.60" height="11.60" fill="#FF0000"/>
<rect x="160.47" y="556.97" width="11.60" height="11.60" fill="#FF0000"/>
<path d="M212.90 436.30V569.00M207.40 569.00H345.70" stroke="#000" stroke-width="1.8" fill="none"/>
<path d="M207.40 569.00H212.90M207.40 542.46H212.90M207.40 515.92H212.90M207.40 489.38H212.90M207.40 462.84H212.90M207.40 436.30H212.90M212.90 569.00V574.50M239.28 569.00V574.50M265.66 569.00V574.50M292.04 569.00V574.50M318.42 569.00V574.50M344.80 569.00V574.50" stroke="#000" stroke-width="1.8" fill="none"/>
<text transform="translate(200.00,573.15) scale(1.07,1.04)" text-anchor="end" font-size="12.5" stroke="#000" stroke-width="0.3">0</text>
<text transform="translate(200.00,546.61) scale(1.07,1.04)" text-anchor="end" font-size="12.5" stroke="#000" stroke-width="0.3">0.01</text>
<text transform="translate(200.00,520.07) scale(1.07,1.04)" text-anchor="end" font-size="12.5" stroke="#000" stroke-width="0.3">0.02</text>
<text transform="translate(200.00,493.53) scale(1.07,1.04)" text-anchor="end" font-size="12.5" stroke="#000" stroke-width="0.3">0.03</text>
<text transform="translate(200.00,466.99) scale(1.07,1.04)" text-anchor="end" font-size="12.5" stroke="#000" stroke-width="0.3">0.04</text>
<text transform="translate(200.00,440.45) scale(1.07,1.04)" text-anchor="end" font-size="12.5" stroke="#000" stroke-width="0.3">0.05</text>
<text transform="translate(212.90,591.30) scale(1.07,1.04)" text-anchor="middle" font-size="12.5" stroke="#000" stroke-width="0.3">0</text>
<text transform="translate(239.28,591.30) scale(1.07,1.04)" text-anchor="middle" font-size="12.5" stroke="#000" stroke-width="0.3">10</text>
<text transform="translate(265.66,591.30) scale(1.07,1.04)" text-anchor="middle" font-size="12.5" stroke="#000" stroke-width="0.3">20</text>
<text transform="translate(292.04,591.30) scale(1.07,1.04)" text-anchor="middle" font-size="12.5" stroke="#000" stroke-width="0.3">30</text>
<text transform="translate(318.42,591.30) scale(1.07,1.04)" text-anchor="middle" font-size="12.5" stroke="#000" stroke-width="0.3">40</text>
<text transform="translate(344.80,591.30) scale(1.07,1.04)" text-anchor="middle" font-size="12.5" stroke="#000" stroke-width="0.3">50</text>
<text transform="translate(277.00,430.50) scale(1,1.04)" text-anchor="middle" font-size="15.3">Bottom channel</text>
<text transform="translate(277.70,604.60) scale(1.0,1.0)" text-anchor="middle" font-size="14.6">hr</text>
<polyline points="212.90,569.00 218.18,566.35 223.45,565.02 276.21,567.67 339.52,567.67" fill="none" stroke="#00B050" stroke-width="2.3"/>
<circle cx="212.90" cy="569.00" r="5.80" fill="#00B050"/>
<circle cx="218.18" cy="566.35" r="5.80" fill="#00B050"/>
<circle cx="223.45" cy="565.02" r="5.80" fill="#00B050"/>
<circle cx="276.21" cy="567.67" r="5.80" fill="#00B050"/>
<circle cx="339.52" cy="567.67" r="5.80" fill="#00B050"/>
<polyline points="212.90,569.00 218.18,500.26 223.45,498.67 276.21,509.82 339.52,505.04" fill="none" stroke="#00B050" stroke-width="2.3" stroke-dasharray="5.5 8.1" stroke-linecap="round"/>
<rect x="207.10" y="563.20" width="11.60" height="11.60" fill="#00B050"/>
<rect x="212.38" y="494.46" width="11.60" height="11.60" fill="#00B050"/>
<rect x="217.65" y="492.87" width="11.60" height="11.60" fill="#00B050"/>
<rect x="270.41" y="504.02" width="11.60" height="11.60" fill="#00B050"/>
<rect x="333.72" y="499.24" width="11.60" height="11.60" fill="#00B050"/>
<polyline points="212.90,569.00 218.18,566.35 223.45,563.69 276.21,567.14 339.52,567.14" fill="none" stroke="#FF0000" stroke-width="2.3"/>
<circle cx="212.90" cy="569.00" r="5.80" fill="#FF0000"/>
<circle cx="218.18" cy="566.35" r="5.80" fill="#FF0000"/>
<circle cx="223.45" cy="563.69" r="5.80" fill="#FF0000"/>
<circle cx="276.21" cy="567.14" r="5.80" fill="#FF0000"/>
<circle cx="339.52" cy="567.14" r="5.80" fill="#FF0000"/>
<polyline points="212.90,569.00 218.18,495.75 223.45,491.77 276.21,505.83 339.52,520.17" fill="none" stroke="#FF0000" stroke-width="2.3" stroke-dasharray="5.5 8.1" stroke-linecap="round"/>
<path d="M218.18 495.75V484.60M214.38 484.60H221.98" stroke="#FF0000" stroke-width="1.6" fill="none"/>
<path d="M223.45 491.77V465.49M219.65 465.49H227.25" stroke="#FF0000" stroke-width="1.6" fill="none"/>
<path d="M276.21 505.83V491.24M272.41 491.24H280.01" stroke="#FF0000" stroke-width="1.6" fill="none"/>
<path d="M339.52 520.17V514.86M335.72 514.86H343.32" stroke="#FF0000" stroke-width="1.6" fill="none"/>
<rect x="207.10" y="563.20" width="11.60" height="11.60" fill="#FF0000"/>
<rect x="212.38" y="489.95" width="11.60" height="11.60" fill="#FF0000"/>
<rect x="217.65" y="485.97" width="11.60" height="11.60" fill="#FF0000"/>
<rect x="270.41" y="500.03" width="11.60" height="11.60" fill="#FF0000"/>
<rect x="333.72" y="514.37" width="11.60" height="11.60" fill="#FF0000"/>
<text x="339.80" y="541.90" text-anchor="middle" font-size="17" letter-spacing="1">*</text>
<path d="M390.50 435.90V569.00M385.00 569.00H514.30" stroke="#000" stroke-width="1.8" fill="none"/>
<path d="M385.00 569.00H390.50M385.00 546.82H390.50M385.00 524.63H390.50M385.00 502.45H390.50M385.00 480.27H390.50M385.00 458.08H390.50M385.00 435.90H390.50M390.50 569.00V574.50M415.08 569.00V574.50M439.66 569.00V574.50M464.24 569.00V574.50M488.82 569.00V574.50M513.40 569.00V574.50" stroke="#000" stroke-width="1.8" fill="none"/>
<text transform="translate(377.60,573.15) scale(1.07,1.04)" text-anchor="end" font-size="12.5" stroke="#000" stroke-width="0.3">0</text>
<text transform="translate(377.60,550.97) scale(1.07,1.04)" text-anchor="end" font-size="12.5" stroke="#000" stroke-width="0.3">0.2</text>
<text transform="translate(377.60,528.78) scale(1.07,1.04)" text-anchor="end" font-size="12.5" stroke="#000" stroke-width="0.3">0.4</text>
<text transform="translate(377.60,506.60) scale(1.07,1.04)" text-anchor="end" font-size="12.5" stroke="#000" stroke-width="0.3">0.6</text>
<text transform="translate(377.60,484.42) scale(1.07,1.04)" text-anchor="end" font-size="12.5" stroke="#000" stroke-width="0.3">0.8</text>
<text transform="translate(377.60,462.23) scale(1.07,1.04)" text-anchor="end" font-size="12.5" stroke="#000" stroke-width="0.3">1.0</text>
<text transform="translate(377.60,440.05) scale(1.07,1.04)" text-anchor="end" font-size="12.5" stroke="#000" stroke-width="0.3">1.2</text>
<text transform="translate(390.50,591.30) scale(1.07,1.04)" text-anchor="middle" font-size="12.5" stroke="#000" stroke-width="0.3">0</text>
<text transform="translate(415.08,591.30) scale(1.07,1.04)" text-anchor="middle" font-size="12.5" stroke="#000" stroke-width="0.3">10</text>
<text transform="translate(439.66,591.30) scale(1.07,1.04)" text-anchor="middle" font-size="12.5" stroke="#000" stroke-width="0.3">20</text>
<text transform="translate(464.24,591.30) scale(1.07,1.04)" text-anchor="middle" font-size="12.5" stroke="#000" stroke-width="0.3">30</text>
<text transform="translate(488.82,591.30) scale(1.07,1.04)" text-anchor="middle" font-size="12.5" stroke="#000" stroke-width="0.3">40</text>
<text transform="translate(513.40,591.30) scale(1.07,1.04)" text-anchor="middle" font-size="12.5" stroke="#000" stroke-width="0.3">50</text>
<text transform="translate(457.70,430.50) scale(1,1.04)" text-anchor="middle" font-size="15.3">Top channel</text>
<text transform="translate(454.50,606.10) scale(1.0,1.0)" text-anchor="middle" font-size="14.6">hr</text>
<polyline points="390.50,458.08 395.42,515.76 400.33,522.41 449.49,546.82 508.48,553.58" fill="none" stroke="#00B050" stroke-width="2.3"/>
<circle cx="390.50" cy="458.08" r="5.80" fill="#00B050"/>
<circle cx="395.42" cy="515.76" r="5.80" fill="#00B050"/>
<circle cx="400.33" cy="522.41" r="5.80" fill="#00B050"/>
<circle cx="449.49" cy="546.82" r="5.80" fill="#00B050"/>
<circle cx="508.48" cy="553.58" r="5.80" fill="#00B050"/>
<polyline points="390.50,458.08 395.42,520.20 400.33,527.96 449.49,555.14 508.48,559.57" fill="none" stroke="#00B050" stroke-width="2.3" stroke-dasharray="5.5 8.1" stroke-linecap="round"/>
<rect x="384.70" y="452.28" width="11.60" height="11.60" fill="#00B050"/>
<rect x="389.62" y="514.40" width="11.60" height="11.60" fill="#00B050"/>
<rect x="394.53" y="522.16" width="11.60" height="11.60" fill="#00B050"/>
<rect x="443.69" y="549.34" width="11.60" height="11.60" fill="#00B050"/>
<rect x="502.68" y="553.77" width="11.60" height="11.60" fill="#00B050"/>
<polyline points="390.50,458.08 395.42,508.77 400.33,518.20 449.49,547.26 508.48,555.58" fill="none" stroke="#FF0000" stroke-width="2.3"/>
<circle cx="390.50" cy="458.08" r="5.80" fill="#FF0000"/>
<circle cx="395.42" cy="508.77" r="5.80" fill="#FF0000"/>
<circle cx="400.33" cy="518.20" r="5.80" fill="#FF0000"/>
<circle cx="449.49" cy="547.26" r="5.80" fill="#FF0000"/>
<circle cx="508.48" cy="555.58" r="5.80" fill="#FF0000"/>
<polyline points="390.50,458.08 395.42,522.97 400.33,530.96 449.49,557.02 508.48,563.45" fill="none" stroke="#FF0000" stroke-width="2.3" stroke-dasharray="5.5 8.1" stroke-linecap="round"/>
<rect x="384.70" y="452.28" width="11.60" height="11.60" fill="#FF0000"/>
<rect x="389.62" y="517.17" width="11.60" height="11.60" fill="#FF0000"/>
<rect x="394.53" y="525.16" width="11.60" height="11.60" fill="#FF0000"/>
<rect x="443.69" y="551.22" width="11.60" height="11.60" fill="#FF0000"/>
<rect x="502.68" y="557.65" width="11.60" height="11.60" fill="#FF0000"/>
<text x="508.30" y="549.00" text-anchor="middle" font-size="17" letter-spacing="1">**</text>
<path d="M553.70 436.20V568.90M548.20 568.90H678.40" stroke="#000" stroke-width="1.8" fill="none"/>
<path d="M548.20 568.90H553.70M548.20 546.78H553.70M548.20 524.67H553.70M548.20 502.55H553.70M548.20 480.43H553.70M548.20 458.32H553.70M548.20 436.20H553.70M553.70 568.90V574.40M578.46 568.90V574.40M603.22 568.90V574.40M627.98 568.90V574.40M652.74 568.90V574.40M677.50 568.90V574.40" stroke="#000" stroke-width="1.8" fill="none"/>
<text transform="translate(540.80,573.05) scale(1.07,1.04)" text-anchor="end" font-size="12.5" stroke="#000" stroke-width="0.3">0</text>
<text transform="translate(540.80,550.93) scale(1.07,1.04)" text-anchor="end" font-size="12.5" stroke="#000" stroke-width="0.3">0.02</text>
<text transform="translate(540.80,528.82) scale(1.07,1.04)" text-anchor="end" font-size="12.5" stroke="#000" stroke-width="0.3">0.04</text>
<text transform="translate(540.80,506.70) scale(1.07,1.04)" text-anchor="end" font-size="12.5" stroke="#000" stroke-width="0.3">0.06</text>
<text transform="translate(540.80,484.58) scale(1.07,1.04)" text-anchor="end" font-size="12.5" stroke="#000" stroke-width="0.3">0.08</text>
<text transform="translate(540.80,462.47) scale(1.07,1.04)" text-anchor="end" font-size="12.5" stroke="#000" stroke-width="0.3">0.10</text>
<text transform="translate(540.80,440.35) scale(1.07,1.04)" text-anchor="end" font-size="12.5" stroke="#000" stroke-width="0.3">0.12</text>
<text transform="translate(553.70,591.20) scale(1.07,1.04)" text-anchor="middle" font-size="12.5" stroke="#000" stroke-width="0.3">0</text>
<text transform="translate(578.46,591.20) scale(1.07,1.04)" text-anchor="middle" font-size="12.5" stroke="#000" stroke-width="0.3">10</text>
<text transform="translate(603.22,591.20) scale(1.07,1.04)" text-anchor="middle" font-size="12.5" stroke="#000" stroke-width="0.3">20</text>
<text transform="translate(627.98,591.20) scale(1.07,1.04)" text-anchor="middle" font-size="12.5" stroke="#000" stroke-width="0.3">30</text>
<text transform="translate(652.74,591.20) scale(1.07,1.04)" text-anchor="middle" font-size="12.5" stroke="#000" stroke-width="0.3">40</text>
<text transform="translate(677.50,591.20) scale(1.07,1.04)" text-anchor="middle" font-size="12.5" stroke="#000" stroke-width="0.3">50</text>
<text transform="translate(620.20,430.10) scale(1,1.04)" text-anchor="middle" font-size="15.3">Bottom channel</text>
<text transform="translate(617.70,606.30) scale(1.0,1.0)" text-anchor="middle" font-size="14.6">hr</text>
<polyline points="553.70,568.90 558.65,563.37 563.60,560.61 613.12,563.15 672.55,565.80" fill="none" stroke="#00B050" stroke-width="2.3"/>
<circle cx="553.70" cy="568.90" r="5.80" fill="#00B050"/>
<circle cx="558.65" cy="563.37" r="5.80" fill="#00B050"/>
<circle cx="563.60" cy="560.61" r="5.80" fill="#00B050"/>
<circle cx="613.12" cy="563.15" r="5.80" fill="#00B050"/>
<circle cx="672.55" cy="565.80" r="5.80" fill="#00B050"/>
<polyline points="553.70,568.90 558.65,474.90 563.60,456.11 613.12,475.24 672.55,495.25" fill="none" stroke="#00B050" stroke-width="2.3" stroke-dasharray="5.5 8.1" stroke-linecap="round"/>
<path d="M613.12 475.24V464.62M609.32 464.62H616.92" stroke="#00B050" stroke-width="1.6" fill="none"/>
<rect x="547.90" y="563.10" width="11.60" height="11.60" fill="#00B050"/>
<rect x="552.85" y="469.10" width="11.60" height="11.60" fill="#00B050"/>
<rect x="557.80" y="450.31" width="11.60" height="11.60" fill="#00B050"/>
<rect x="607.32" y="469.44" width="11.60" height="11.60" fill="#00B050"/>
<rect x="666.75" y="489.45" width="11.60" height="11.60" fill="#00B050"/>
<polyline points="553.70,568.90 558.65,565.58 563.60,562.93 613.12,566.69 672.55,567.79" fill="none" stroke="#FF0000" stroke-width="2.3"/>
<circle cx="553.70" cy="568.90" r="5.80" fill="#FF0000"/>
<circle cx="558.65" cy="565.58" r="5.80" fill="#FF0000"/>
<circle cx="563.60" cy="562.93" r="5.80" fill="#FF0000"/>
<circle cx="613.12" cy="566.69" r="5.80" fill="#FF0000"/>
<circle cx="672.55" cy="567.79" r="5.80" fill="#FF0000"/>
<polyline points="553.70,568.90 558.65,478.89 563.60,467.61 613.12,509.07 672.55,536.28" fill="none" stroke="#FF0000" stroke-width="2.3" stroke-dasharray="5.5 8.1" stroke-linecap="round"/>
<rect x="547.90" y="563.10" width="11.60" height="11.60" fill="#FF0000"/>
<rect x="552.85" y="473.09" width="11.60" height="11.60" fill="#FF0000"/>
<rect x="557.80" y="461.81" width="11.60" height="11.60" fill="#FF0000"/>
<rect x="607.32" y="503.27" width="11.60" height="11.60" fill="#FF0000"/>
<rect x="666.75" y="530.48" width="11.60" height="11.60" fill="#FF0000"/>
<text x="614.50" y="506.30" text-anchor="middle" font-size="17" letter-spacing="1">**</text>
<text x="673.80" y="533.20" text-anchor="middle" font-size="17" letter-spacing="1">**</text>
<text transform="translate(11.00,90.00) rotate(-90) scale(1,1.04)" text-anchor="middle" font-size="15.3">APAP (μM)</text>
<text transform="translate(356.70,90.40) rotate(-90) scale(1,1.04)" text-anchor="middle" font-size="15.3">Caffeine (μM)</text>
<text transform="translate(11.00,294.80) rotate(-90) scale(1,1.04)" text-anchor="middle" font-size="15.3">Triazolam (μM)</text>
<text transform="translate(356.70,294.50) rotate(-90) scale(1,1.04)" text-anchor="middle" font-size="15.3">Diclofenac (μM)</text>
<text transform="translate(11.00,503.00) rotate(-90) scale(1,1.04)" text-anchor="middle" font-size="15.3">Bufuralol (μM)</text>
<text transform="translate(356.80,502.70) rotate(-90) scale(1,1.04)" text-anchor="middle" font-size="15.3">Propranolol (μM)</text>
<text transform="translate(0.90,12.90) scale(1,1.04)" font-size="18">A</text>
<text transform="translate(340.50,13.10) scale(1,1.04)" font-size="18">B</text>
<text transform="translate(1.00,212.50) scale(1,1.04)" font-size="18">C</text>
<text transform="translate(340.80,212.10) scale(1,1.04)" font-size="18">D</text>
<text transform="translate(1.20,421.50) scale(1,1.04)" font-size="18">E</text>
<text transform="translate(340.50,417.40) scale(1,1.04)" font-size="18">F</text>
<path d="M428.3 630.60H483" stroke="#00B050" stroke-width="2.0"/>
<circle cx="455.7" cy="630.60" r="8.3" fill="#00B050"/>
<text transform="translate(487,634.40) scale(1,1.025)" font-size="15.5">WT chip Static</text>
<path d="M429.3 660.10H483" stroke="#00B050" stroke-width="2.0" stroke-dasharray="5.6 7.97" stroke-linecap="round"/>
<path d="M481.9 660.10H483" stroke="#00B050" stroke-width="2.0"/>
<rect x="447.4" y="651.80" width="16.6" height="16.6" fill="#00B050"/>
<text transform="translate(487,661.80) scale(1,1.025)" font-size="15.5">WT chip Flow</text>
<path d="M428.3 686.50H483" stroke="#FF0000" stroke-width="2.0"/>
<circle cx="455.7" cy="686.50" r="8.3" fill="#FF0000"/>
<text transform="translate(487,690.40) scale(1,1.025)" font-size="15.5">Genome-edited chip Static</text>
<path d="M429.3 715.70H483" stroke="#FF0000" stroke-width="2.0" stroke-dasharray="5.6 7.97" stroke-linecap="round"/>
<path d="M481.9 715.70H483" stroke="#FF0000" stroke-width="2.0"/>
<rect x="447.4" y="707.40" width="16.6" height="16.6" fill="#FF0000"/>
<text transform="translate(487,717.50) scale(1,1.025)" font-size="15.5">Genome-edited chip Flow</text>
</svg></body></html>
